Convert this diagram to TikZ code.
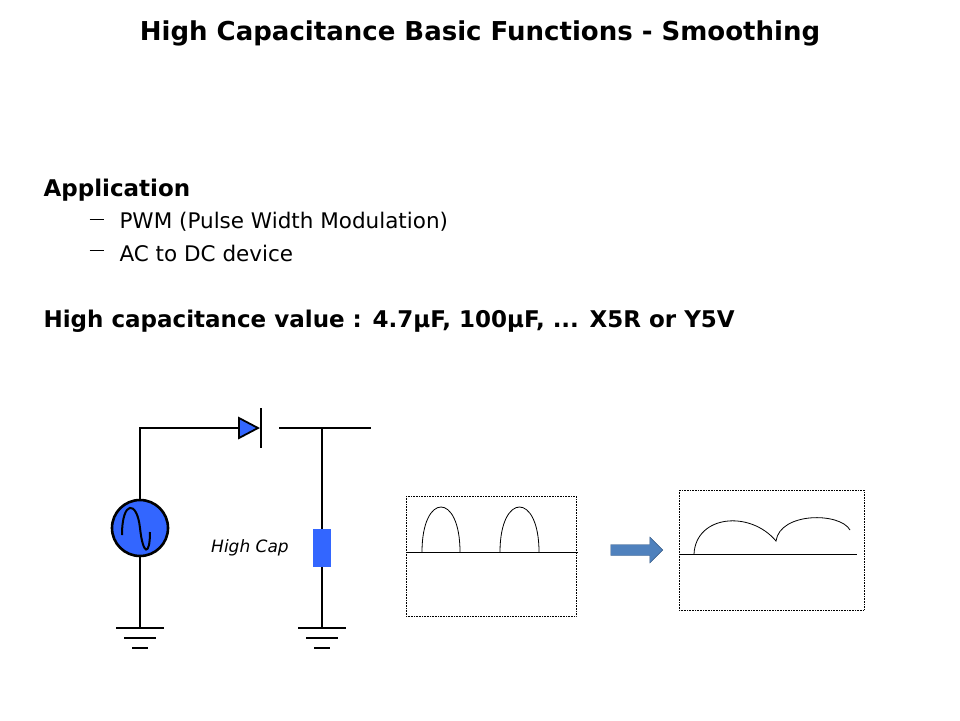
\documentclass[tikz,border=0pt]{standalone}
\usepackage{fontspec}
\setmainfont{DejaVu Sans}
\usetikzlibrary{shapes.arrows}
\definecolor{capblue}{RGB}{51,102,255}
\definecolor{arrblue}{RGB}{79,129,189}
\tikzset{
  wire/.style={line width=2.6pt},
  gnd/.style={line width=2.6pt},
  plotbox/.style={densely dotted,line width=0.6pt},
  trace/.style={line width=0.8pt}
}
\begin{document}
\begin{tikzpicture}[x=1pt,y=-1pt]
\useasboundingbox (0,0) rectangle (960,720);
% text
\node (title) at (480,33) {\fontsize{26}{30}\selectfont\bfseries High Capacitance Basic Functions - Smoothing};
\node (app) [anchor=west] at (40,190) {\fontsize{23}{27}\selectfont\bfseries Application};
\node (d1) [anchor=west] at (86,222) {\rule[5pt]{14pt}{1.6pt}};
\node (b1) [anchor=west] at (116,222) {\fontsize{21.5}{25}\selectfont PWM (Pulse Width Modulation)};
\node (d2) [anchor=west] at (86,253) {\rule[5pt]{14pt}{1.6pt}};
\node (b2) [anchor=west] at (116,253) {\fontsize{21.5}{25}\selectfont AC to DC device};
\node (hcv) [anchor=west] at (40,321) {\fontsize{23}{27}\selectfont\bfseries High capacitance value : 4.7µF, 100µF, ... X5R or Y5V};
% circuit
\coordinate (tl) at (140,428);
\coordinate (g1) at (140,628);
\coordinate (dk) at (279,428);
\coordinate (tj) at (322,428);
\coordinate (out) at (371,428);
\coordinate (g2) at (322,628);
\node (src) [circle,draw,line width=2.6pt,fill=capblue,minimum size=56pt,inner sep=0pt] at (140,528) {};
\node (cap) [fill=capblue,minimum width=18pt,minimum height=38pt,inner sep=0pt] at (322,548) {};
\draw[wire] (src.north) -- (tl) -- (239,428);
\draw[wire] (src.south) -- (g1);
\draw[line width=1.8pt,fill=capblue] (239,418) -- (258,428) -- (239,438) -- cycle;
\draw[wire] (261,408) -- (261,448);
\draw[wire] (dk) -- (out);
\draw[wire] (tj) -- (cap.north);
\draw[wire] (cap.south) -- (g2);
\draw[line width=2pt] (122,535) .. controls (122,500) and (137,500) .. (140,528) .. controls (143,556) and (150,556) .. (150,532);
\foreach \g in {g1,g2}{
  \draw[gnd] ([xshift=-24pt]\g) -- ([xshift=24pt]\g);
  \draw[gnd] ([xshift=-16pt,yshift=-10pt]\g) -- ([xshift=16pt,yshift=-10pt]\g);
  \draw[gnd] ([xshift=-8pt,yshift=-20pt]\g) -- ([xshift=8pt,yshift=-20pt]\g);
}
\node (hc) at (250,548) {\fontsize{17}{20}\selectfont\itshape High Cap};
% waveforms
\draw[plotbox] (406,496) rectangle (576,616);
\draw[line width=1pt] (406,552) -- (578,552);
\draw[trace] (422,552) .. controls (422,492) and (460,492) .. (460,552);
\draw[trace] (500,552) .. controls (500,492) and (539,492) .. (539,552);
\node (arr) [single arrow,draw=arrblue!70!black,fill=arrblue,minimum height=52pt,minimum width=26pt,single arrow head extend=3pt,inner sep=2pt] at (634,550) {};
\draw[plotbox] (679,490) rectangle (864,610);
\draw[line width=1pt] (679,554) -- (857,554);
\draw[trace] (694,554) .. controls (696,515) and (750,510) .. (776,541) .. controls (780,512) and (840,512) .. (850,530);
\end{tikzpicture}
\end{document}
